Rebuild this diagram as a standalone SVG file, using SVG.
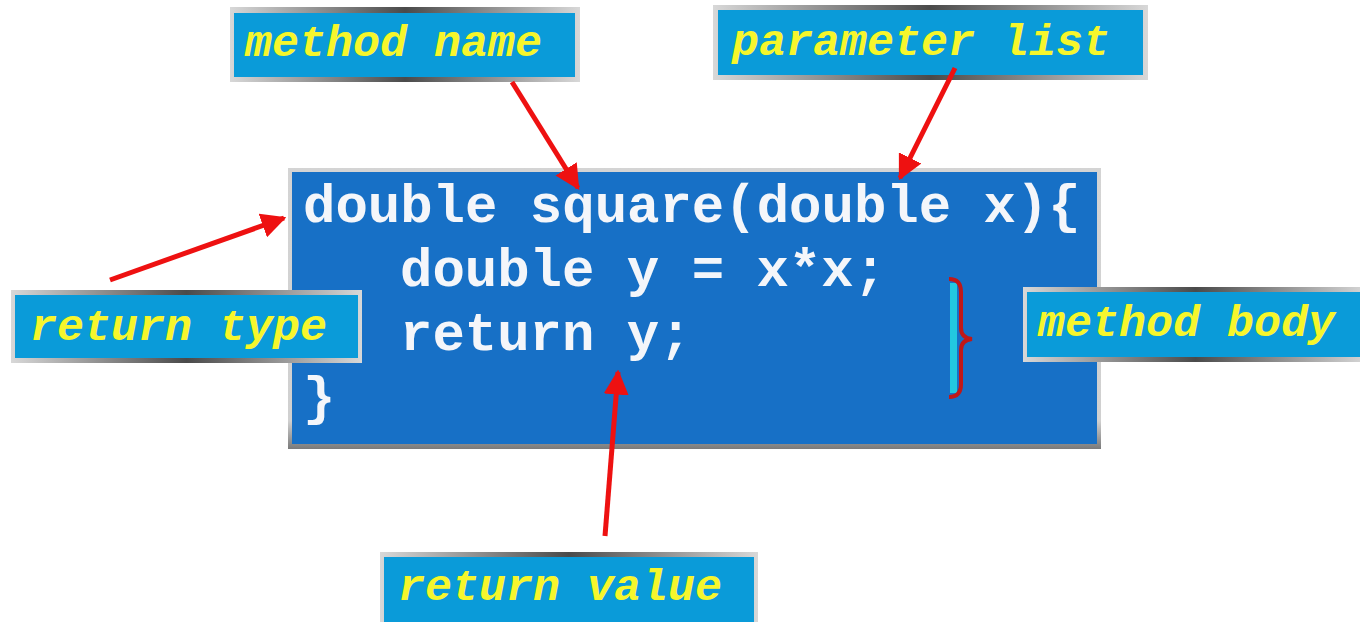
<svg xmlns="http://www.w3.org/2000/svg" width="1360" height="622" viewBox="0 0 1360 622">
<style>
.code{font-family:"Liberation Mono","Courier New",monospace;font-weight:bold;font-size:54px;fill:#f4f6fa}
.lbl{font-family:"Liberation Mono","Courier New",monospace;font-weight:bold;font-style:italic;font-size:45px;fill:#f6f62c}
.inner{fill:#0a9bd9}
.arrow{stroke:#ee1111;stroke-width:5;fill:none;marker-end:url(#ah)}
</style>
<defs>
<linearGradient id="rim" x1="0" y1="0" x2="1" y2="0">
<stop offset="0" stop-color="#d8d8d8"/>
<stop offset="0.5" stop-color="#4a4a4a"/>
<stop offset="1" stop-color="#d8d8d8"/>
</linearGradient>
<linearGradient id="mainrim" x1="0" y1="0" x2="0" y2="1">
<stop offset="0" stop-color="#d4d4d4"/>
<stop offset="0.9" stop-color="#d0d0d0"/>
<stop offset="1" stop-color="#7a7a7a"/>
</linearGradient>
<marker id="ah" viewBox="0 0 10 10" refX="9" refY="5" markerWidth="5" markerHeight="5" orient="auto" markerUnits="strokeWidth">
<path d="M0,0 L10,5 L0,10 z" fill="#ee1111"/>
</marker>
</defs>
<rect width="1360" height="622" fill="#ffffff"/>

<g id="code-box">
<rect x="288" y="168" width="813" height="281" fill="url(#mainrim)"/>
<rect x="292" y="172" width="805" height="272" fill="#1770c6"/>
<text class="code" x="303" y="222">double square(double x){</text>
<text class="code" x="400" y="286">double y = x*x;</text>
<text class="code" x="400" y="350">return y;</text>
<text class="code" x="303" y="414">}</text>
</g>

<g id="brace">
<path d="M950,283 L957,283 L957,393 L950,393 Z" fill="#22c8e0"/>
<path d="M949,279 Q961,279 961,292 L961,328 Q961,338 972,339 Q961,340 961,350 L961,384 Q961,397 949,397" fill="none" stroke="#c01818" stroke-width="4"/>
</g>

<g id="method-name">
<rect x="230" y="7" width="350" height="75" fill="url(#rim)"/>
<rect class="inner" x="234" y="13" width="341" height="64"/>
<text class="lbl" x="245" y="56">method name</text>
</g>

<g id="parameter-list">
<rect x="713" y="5" width="435" height="75" fill="url(#rim)"/>
<rect class="inner" x="718" y="10" width="425" height="65"/>
<text class="lbl" x="732" y="55">parameter list</text>
</g>

<g id="return-type">
<rect x="11" y="290" width="351" height="73" fill="url(#rim)"/>
<rect class="inner" x="15" y="295" width="343" height="63"/>
<text class="lbl" x="30" y="340">return type</text>
</g>

<g id="method-body">
<rect x="1023" y="287" width="345" height="75" fill="url(#rim)"/>
<rect class="inner" x="1027" y="292" width="340" height="65"/>
<text class="lbl" x="1038" y="336">method body</text>
</g>

<g id="return-value">
<rect x="380" y="552" width="378" height="75" fill="url(#rim)"/>
<rect class="inner" x="384" y="557" width="370" height="70"/>
<text class="lbl" x="398" y="600">return value</text>
</g>

<g id="connectors">
<line class="arrow" x1="512" y1="82" x2="578" y2="188"/>
<line class="arrow" x1="955" y1="68" x2="900" y2="178"/>
<line class="arrow" x1="110" y1="280" x2="284" y2="218"/>
<line class="arrow" x1="605" y1="536" x2="618" y2="372"/>
</g>
</svg>
